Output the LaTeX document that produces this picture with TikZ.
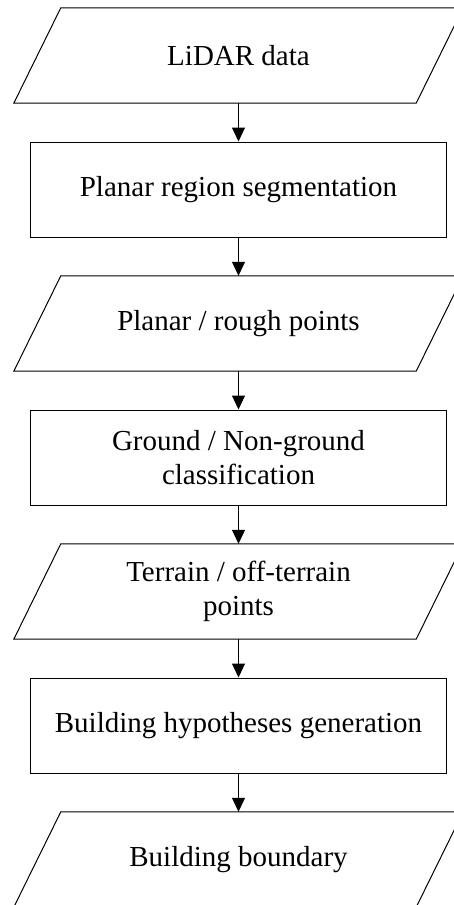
\documentclass[tikz,border=0pt]{standalone}
\usepackage{fontspec}
\setmainfont{Liberation Serif}
\usetikzlibrary{arrows.meta}
\begin{document}
\begin{tikzpicture}[x=1pt,y=-1pt,
  every node/.style={font=\fontsize{29}{34}\selectfont, align=center, inner sep=0pt},
  procbox/.style={draw, line width=1pt, minimum width=416pt, minimum height=95pt},
  iobox/.style={minimum width=355pt, minimum height=95pt},
  ioline/.style={line width=1pt},
  arr/.style={line width=1pt, -{Triangle[length=14pt,width=13pt]}}]
\useasboundingbox (0,0) rectangle (454,905);
\clip (0,0) rectangle (454,905);
\fill[white] (0,0) rectangle (454,905);

\node[iobox]   (p1) at (238.5,55.5)  {LiDAR data};
\node[procbox] (b1) at (238.5,189.5) {Planar region segmentation};
\node[iobox]   (p2) at (238.5,323.5) {Planar / rough points};
\node[procbox] (b2) at (238.5,457.5) {Ground / Non-ground\\classification};
\node[iobox]   (p3) at (238.5,591.5) {Terrain / off-terrain\\points};
\node[procbox] (b3) at (238.5,725.5) {Building hypotheses generation};
\node[iobox]   (p4) at (238.5,859.5) {Building boundary};

\foreach \n in {p1,p2,p3,p4}{
  \draw[ioline] (\n.north west) -- ([xshift=47pt]\n.north east) -- (\n.south east) -- ([xshift=-47pt]\n.south west) -- cycle;
}

\draw[arr] (p1.south) -- (b1.north);
\draw[arr] (b1.south) -- (p2.north);
\draw[arr] (p2.south) -- (b2.north);
\draw[arr] (b2.south) -- (p3.north);
\draw[arr] (p3.south) -- (b3.north);
\draw[arr] (b3.south) -- (p4.north);
\end{tikzpicture}
\end{document}
